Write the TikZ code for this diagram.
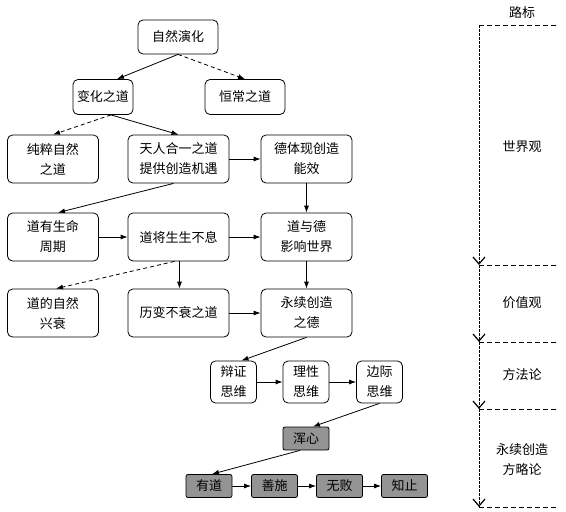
\documentclass[tikz,border=0pt]{standalone}
\usepackage{fontspec}
\setmainfont{Noto Sans CJK SC}
\usetikzlibrary{arrows.meta}
\begin{document}
\begin{tikzpicture}[x=1pt,y=-1pt,
  box/.style={draw, rounded corners=5pt, line width=0.8pt, align=center, inner sep=0pt, font=\fontsize{13}{20}\selectfont},
  big/.style={box, minimum width=91pt, minimum height=48pt},
  mid/.style={box, minimum width=101pt, minimum height=48pt},
  small/.style={box, minimum width=46pt, minimum height=42pt},
  gbox/.style={box, fill=black!42, minimum width=46pt, minimum height=23pt, rounded corners=2pt},
  lbl/.style={align=center, inner sep=0pt, font=\fontsize{13}{20}\selectfont},
  arr/.style={-{Latex[length=7pt,width=5pt]}, line width=0.8pt},
  dsh/.style={dash pattern=on 4pt off 3pt},
  vline/.style={line width=1pt, dash pattern=on 2.5pt off 1.5pt},
  vtip/.style={solid, line width=1.2pt},
  hline/.style={line width=0.8pt, dash pattern=on 5pt off 3pt}]
\useasboundingbox (0,0) rectangle (566,512);
% boxes
\node[box, minimum width=80pt, minimum height=34pt] (zr) at (178,37) {自然演化};
\node[box, minimum width=60pt, minimum height=35pt] (bh) at (103,97) {变化之道};
\node[box, minimum width=80pt, minimum height=35pt] (hc) at (245,97) {恒常之道};
\node[big] (cc) at (53,159) {纯粹自然\\之道};
\node[mid] (tr) at (178.5,159) {天人合一之道\\提供创造机遇};
\node[big] (dt) at (306.5,159) {德体现创造\\能效};
\node[big] (ds) at (53,237) {道有生命\\周期};
\node[mid] (dj) at (178.5,237) {道将生生不息};
\node[big] (dy) at (306.5,237) {道与德\\影响世界};
\node[big] (dz) at (53,313) {道的自然\\兴衰};
\node[mid] (lb) at (178.5,313) {历变不衰之道};
\node[big] (yx) at (306.5,313) {永续创造\\之德};
\node[small] (bz) at (233.5,382) {辩证\\思维};
\node[small] (lx) at (306,382) {理性\\思维};
\node[small] (bj) at (379.5,382) {边际\\思维};
\node[gbox] (hx) at (306,438.5) {浑心};
\node[gbox] (yd) at (209,486) {有道};
\node[gbox] (ss) at (274.5,486) {善施};
\node[gbox] (wb) at (339.5,486) {无败};
\node[gbox] (zz) at (404.5,486) {知止};
% connectors
\draw[arr] (zr.south) -- ([xshift=14pt]bh.north);
\draw[arr,dsh] (zr.south) -- (hc.north);
\draw[arr,dsh] ([xshift=8pt]bh.south) -- (cc.north);
\draw[arr] ([xshift=8pt]bh.south) -- (tr.north);
\draw[arr] (tr.east) -- (dt.west);
\draw[arr] (dt.south) -- (dy.north);
\draw[arr] ([xshift=-5pt]tr.south) -- ([xshift=5pt]ds.north);
\draw[arr] (ds.east) -- (dj.west);
\draw[arr] (dj.east) -- (dy.west);
\draw[arr,dsh] ([xshift=-4pt]dj.south) -- ([xshift=3pt]dz.north);
\draw[arr] ([xshift=1pt]dj.south) -- ([xshift=1pt]lb.north);
\draw[arr] (dy.south) -- (yx.north);
\draw[arr] (lb.east) -- (yx.west);
\draw[arr] (yx.south) -- ([xshift=8pt]bz.north);
\draw[arr] (bz.east) -- (lx.west);
\draw[arr] (lx.east) -- (bj.west);
\draw[arr] (bj.south) -- ([xshift=7pt]hx.north);
\draw[arr] ([xshift=-6pt]hx.south) -- ([xshift=3pt]yd.north);
\draw[arr] (yd.east) -- (ss.west);
\draw[arr] (ss.east) -- (wb.west);
\draw[arr] (wb.east) -- (zz.west);
% right-hand guide
\node[lbl] (lbt) at (522,13) {路标};
\coordinate (h0) at (479,25);
\coordinate (h1) at (479,265);
\coordinate (h2) at (479,342);
\coordinate (h3) at (479,409);
\coordinate (h4) at (479,507);
\coordinate (e0) at (558,25);
\coordinate (e1) at (558,265);
\coordinate (e2) at (558,342);
\coordinate (e3) at (558,409);
\coordinate (e4) at (558,507);
\draw[hline] (h0) -- (e0);
\draw[hline] (h1) -- (e1);
\draw[hline] (h2) -- (e2);
\draw[hline] (h3) -- (e3);
\draw[hline] (h4) -- (e4);
\draw[vline] (h0) -- (h1);
\draw[vline] (h1) -- (h2);
\draw[vline] (h2) -- (h3);
\draw[vline] (h3) -- (h4);
\draw[vtip] ([xshift=-6pt,yshift=8pt]h1) -- ([yshift=1pt]h1) -- ([xshift=6pt,yshift=8pt]h1);
\draw[vtip] ([xshift=-6pt,yshift=8pt]h2) -- ([yshift=1pt]h2) -- ([xshift=6pt,yshift=8pt]h2);
\draw[vtip] ([xshift=-6pt,yshift=8pt]h3) -- ([yshift=1pt]h3) -- ([xshift=6pt,yshift=8pt]h3);
\draw[vtip] ([xshift=-6pt,yshift=8pt]h4) -- ([yshift=1pt]h4) -- ([xshift=6pt,yshift=8pt]h4);
\node[lbl] (sj) at (522,147) {世界观};
\node[lbl] (jz) at (522,303) {价值观};
\node[lbl] (ff) at (522,375) {方法论};
\node[lbl] (yl) at (522,460) {永续创造\\方略论};
\end{tikzpicture}
\end{document}
